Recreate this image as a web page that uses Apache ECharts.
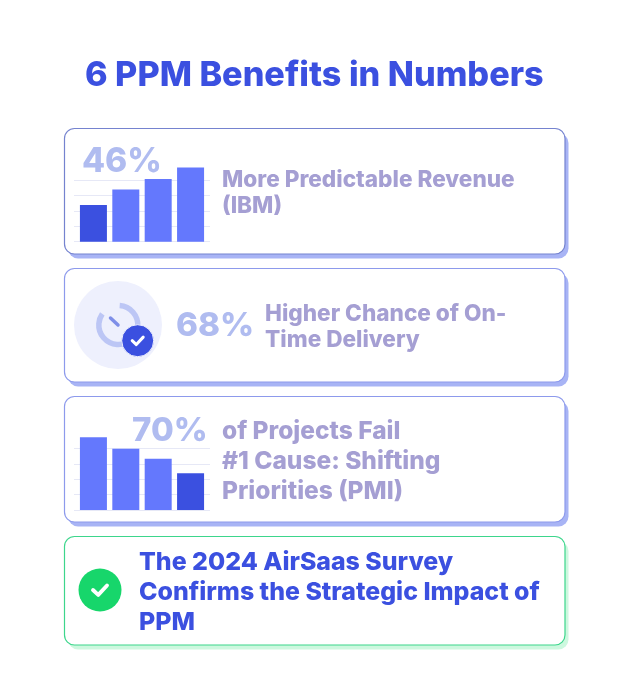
<!DOCTYPE html>
<html>
<head>
<meta charset="utf-8">
<title>6 PPM Benefits in Numbers</title>
<script src="https://cdn.jsdelivr.net/npm/echarts@6/dist/echarts.min.js"></script>
<style>
  html, body {margin: 0; padding: 0; background: #fff;}
  #chart {width: 628px; height: 688px;}
</style>
</head>
<body>
<div id="chart"></div>
<script>
  let titleText = '6 PPM Benefits in Numbers';
  let barSlots = [1, 2, 3, 4];
  let revenueValues = [48, 68, 82, 97];
  let failValues = [95, 80, 67, 48];
  let revenuePct = '46%';
  let deliveryPct = '68%';
  let failPct = '70%';
  let revenueLines = 'More Predictable Revenue\n(IBM)';
  let deliveryLines = 'Higher Chance of On-\nTime Delivery';
  let failLines = 'of Projects Fail\n#1 Cause: Shifting\nPriorities (PMI)';
  let surveyLines = 'The 2024 AirSaas Survey\nConfirms the Strategic Impact of\nPPM';

  const FONT = 'Inter';
  const BLUE = '#3b50e0';
  const BAR = '#6478fd';
  const PCT = '#b0bcf0';
  const BODY = '#a59fd3';

  function card(y, h, border, shadow) {
    return [
      {type: 'rect', z: -2, shape: {x: 68, y: y + 4.5, width: 500.5, height: h, r: 10}, style: {fill: shadow}},
      {type: 'rect', z: -1, shape: {x: 64.5, y: y, width: 500.5, height: h, r: 10}, style: {fill: '#fff', stroke: border, lineWidth: 1.2}}
    ];
  }

  function label(x, y, text, size, color, lineHeight) {
    return {type: 'text', z: 10, x: x, y: y, style: {text: text, fill: color, font: '800 ' + size + 'px ' + FONT, lineHeight: lineHeight, textVerticalAlign: 'top'}};
  }

  function check(cx, cy, s) {
    return {type: 'polyline', z: 12, shape: {points: [[cx - s, cy], [cx - s * 0.25, cy + s * 0.7], [cx + s, cy - s * 0.65]]}, style: {stroke: '#fff', fill: null, lineWidth: s * 0.55, lineCap: 'round', lineJoin: 'round'}};
  }

  function barGrid(top) {
    return {left: 74, width: 136, top: top, height: 76.6};
  }

  // value axis so the bars keep their own pitch inside the wider gridlines
  function xAxisFor(i) {
    return {type: 'value', gridIndex: i, min: 0.4, max: 4.6, show: false, splitLine: {show: false}};
  }

  function yAxisFor(i) {
    return {
      type: 'value', gridIndex: i, min: 0, max: 100, interval: 20,
      axisLabel: {show: false}, axisTick: {show: false}, axisLine: {show: false},
      splitLine: {show: true, showMaxLine: false, lineStyle: {color: '#e6e8f6', width: 1}}
    };
  }

  function barSeries(i, values, darkIndex) {
    return {
      type: 'bar', xAxisIndex: i, yAxisIndex: i, barWidth: 27, silent: true,
      data: values.map(function(v, k) {
        return {value: [barSlots[k], v], itemStyle: {color: k == darkIndex ? BLUE : BAR}};
      })
    };
  }

  let graphics = [].concat(
    card(128.5, 125.5, '#7583cf', '#a8b4f5'),
    card(268.5, 113.5, '#8d9aec', '#a8b4f5'),
    card(396.5, 125.5, '#8d9aec', '#a8b4f5'),
    card(536.5, 108.5, '#3dd68c', '#cdf8df'),
    [
      label(85, 55.5, titleText, 34.2, BLUE, 40),

      label(82, 143, revenuePct, 33.6, PCT, 38),
      label(222, 166.5, revenueLines, 22.6, BODY, 26.5),

      {type: 'circle', z: 1, shape: {cx: 118, cy: 325, r: 44}, style: {fill: '#eef0fd'}},
      {type: 'arc', z: 2, shape: {cx: 118.3, cy: 325, r: 19.5, startAngle: -1.5, endAngle: 3.75}, style: {stroke: '#bcc6f5', fill: null, lineWidth: 5.5}},
      {type: 'line', z: 3, shape: {x1: 110.5, y1: 318, x2: 118, y2: 325}, style: {stroke: '#7f8fe8', lineWidth: 3.5, lineCap: 'round'}},
      {type: 'circle', z: 4, shape: {cx: 137.7, cy: 340.7, r: 16}, style: {fill: BLUE, stroke: '#eef0fd', lineWidth: 1}},
      check(137.7, 340.7, 5.5),
      label(176, 307, deliveryPct, 33.2, PCT, 38),
      label(265, 300.5, deliveryLines, 22.6, BODY, 26.5),

      label(132, 412, failPct, 33, PCT, 38),
      label(222, 416.5, failLines, 24.5, BODY, 30),

      {type: 'circle', z: 4, shape: {cx: 100, cy: 590, r: 21.5}, style: {fill: '#17d66b'}},
      check(100, 590, 7),
      label(139, 547.5, surveyLines, 24.9, BLUE, 30)
    ]
  );

  let chart = echarts.init(document.getElementById('chart'), null, {renderer: 'canvas'});
  chart.setOption({
    backgroundColor: '#fff',
    animation: false,
    grid: [barGrid(165.1), barGrid(433.4)],
    xAxis: [xAxisFor(0), xAxisFor(1)],
    yAxis: [yAxisFor(0), yAxisFor(1)],
    graphic: {elements: graphics},
    series: [barSeries(0, revenueValues, 0), barSeries(1, failValues, 3)]
  });
</script>
</body>
</html>
